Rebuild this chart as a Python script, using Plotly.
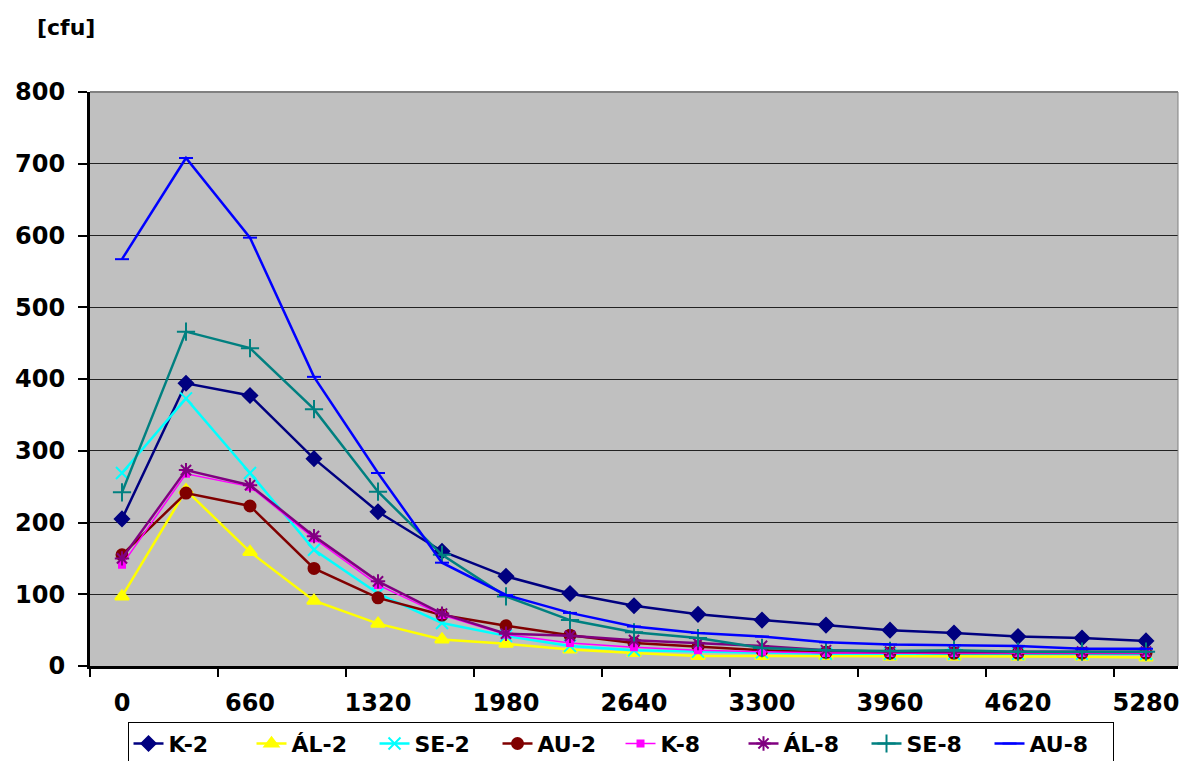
import plotly.graph_objects as go

minutes = [0, 330, 660, 990, 1320, 1650, 1980, 2310, 2640, 2970, 3300, 3630, 3960, 4290, 4620, 4950, 5280]
tick_labels = [0, 660, 1320, 1980, 2640, 3300, 3960, 4620, 5280]
y_ticks = [0, 100, 200, 300, 400, 500, 600, 700, 800]

K2 = [205, 394, 377, 289, 215, 160, 125, 101, 84, 72, 64, 57, 50, 46, 41, 39, 35]
AL2 = [97, 245, 159, 91, 59, 37, 31, 23, 18, 14, 14, 14, 13, 13, 13, 13, 12]
SE2 = [269, 373, 269, 162, 101, 60, 42, 28, 22, 20, 19, 17, 17, 17, 17, 17, 17]
AU2 = [155, 241, 223, 136, 95, 71, 56, 43, 32, 27, 22, 19, 18, 18, 18, 18, 18]
K8 = [141, 268, 250, 178, 113, 71, 44, 32, 26, 22, 20, 18, 18, 18, 18, 18, 18]
AL8 = [150, 273, 252, 181, 118, 73, 45, 42, 36, 32, 28, 22, 20, 20, 20, 20, 20]
SE8 = [242, 466, 443, 358, 243, 155, 97, 64, 47, 39, 25, 22, 21, 22, 20, 20, 20]
AU8 = [567, 708, 597, 403, 269, 144, 99, 74, 55, 46, 41, 33, 30, 29, 28, 24, 24]

series = [
    ("K-2", K2, "#000080", "diamond", 11, 2.5),
    ("ÁL-2", AL2, "#FFFF00", "triangle-up", 12, 2.5),
    ("SE-2", SE2, "#00FFFF", "x-thin-open", 12, 2.5),
    ("AU-2", AU2, "#800000", "circle", 11, 2.5),
    ("K-8", K8, "#FF00FF", "square", 6, 1.5),
    ("ÁL-8", AL8, "#800080", "asterisk-open", 12, 2.5),
    ("SE-8", SE8, "#008080", "cross-thin-open", 13, 2.5),
    ("AU-8", AU8, "#0000FF", "line-ew-open", 10, 2.5),
]

FONT = "DejaVu Sans"

fig = go.Figure()
for name, vals, color, sym, size, lw in series:
    fig.add_trace(go.Scatter(
        x=minutes, y=vals, name=name, mode="lines+markers",
        line=dict(color=color, width=lw),
        marker=dict(symbol=sym, size=size, color=color,
                    line=dict(color=color, width=2)),
    ))

fig.update_layout(
    width=1184, height=761,
    margin=dict(l=90, r=6, t=92, b=95, autoexpand=False),
    paper_bgcolor="white",
    plot_bgcolor="#C0C0C0",
    font=dict(family=FONT, size=22, color="black", weight="bold"),
    showlegend=True,
    legend=dict(
        orientation="h", x=0.4876, xanchor="center", y=-0.097, yanchor="top",
        bgcolor="white", bordercolor="black", borderwidth=1,
        font=dict(family=FONT, size=22, color="black", weight="bold"),
        entrywidth=78, entrywidthmode="pixels",
        itemwidth=30,
    ),
    xaxis=dict(
        range=[-165, 5445], showgrid=False, zeroline=False,
        tickmode="array", tickvals=tick_labels, ticktext=[str(t) for t in tick_labels],
        ticks="", ticklabelstandoff=13,
        showline=True, linecolor="black", linewidth=3,
        minor=dict(tickmode="linear", tick0=-165, dtick=660, ticks="outside",
                   ticklen=8, tickwidth=2, tickcolor="black", showgrid=False),
        tickfont=dict(family=FONT, size=24, color="black", weight="bold"),
    ),
    yaxis=dict(
        range=[0, 800], tickmode="array", tickvals=y_ticks,
        showgrid=True, gridcolor="#222222", gridwidth=1, zeroline=False,
        ticks="outside", ticklen=9, tickwidth=2, tickcolor="black",
        showline=True, linecolor="black", linewidth=3,
        ticklabelstandoff=8,
        tickfont=dict(family=FONT, size=24, color="black", weight="bold"),
    ),
    shapes=[
        dict(type="line", xref="paper", yref="paper", x0=0, x1=1, y0=1, y1=1,
             line=dict(color="#808080", width=2), layer="above"),
        dict(type="line", xref="paper", yref="paper", x0=1, x1=1, y0=0, y1=1,
             line=dict(color="#808080", width=1), layer="above"),
    ],
    annotations=[
        dict(text="[cfu]", xref="paper", yref="paper", x=-0.022, y=1.1115,
             xanchor="center", yanchor="middle", showarrow=False,
             font=dict(family=FONT, size=22, color="black", weight="bold")),
    ],
)

fig.write_html("out.html")
